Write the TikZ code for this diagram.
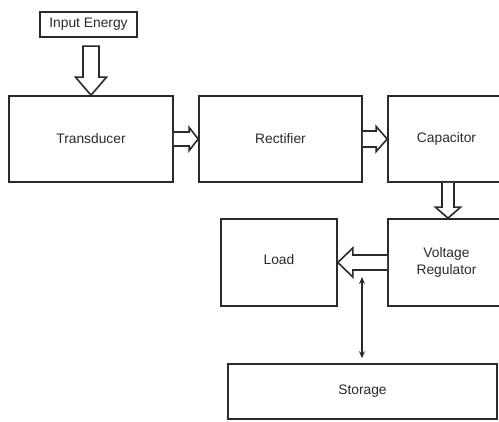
\documentclass[tikz,border=0pt]{standalone}
\usepackage{fontspec}
\setmainfont{Liberation Sans}
\usetikzlibrary{calc,arrows.meta}
\definecolor{ink}{HTML}{2A2A2A}
\begin{document}
\begin{tikzpicture}[x=1pt,y=-1pt,
  blk/.style={draw=ink,line width=1.6pt,text=ink,inner sep=0pt,font=\fontsize{13.8}{17}\selectfont,align=center},
  hollow/.style={draw=ink,line width=1.6pt,fill=white,line join=miter},
  dbl/.style={draw=ink,line width=1.3pt,{Stealth[length=7pt,width=6pt]}-{Stealth[length=7pt,width=6pt]}}]
\useasboundingbox (0,0) rectangle (499,422);
\clip (0,0) rectangle (499,422);
\node[blk,minimum width=97pt,minimum height=25pt] (inp) at (88.5,24.5) {Input Energy};
\node[blk,minimum width=164pt,minimum height=86pt] (trans) at (91,139) {Transducer};
\node[blk,minimum width=163pt,minimum height=86pt] (rect) at (280.5,139) {Rectifier};
\node[blk,minimum width=117pt,minimum height=86pt] (cap) at (446.5,139) {Capacitor};
\node[blk,minimum width=117pt,minimum height=87pt] (vr) at (446.5,262.5) {Voltage\\Regulator};
\node[blk,minimum width=116pt,minimum height=87pt] (load) at (279,262.5) {\raisebox{6pt}{Load}};
\node[blk,minimum width=269pt,minimum height=55pt] (stor) at (362.5,391.5) {Storage};
% Input Energy -> Transducer
\coordinate (t1) at (trans.north);
\draw[hollow] ($(t1)+(-8,-49)$) -- ($(t1)+(-8,-18)$) -- ($(t1)+(-15.5,-18)$) -- (t1)
  -- ($(t1)+(15.5,-18)$) -- ($(t1)+(8,-18)$) -- ($(t1)+(8,-49)$) -- cycle;
% Transducer -> Rectifier
\draw[hollow] ($(trans.east)+(0,-7)$) -- ($(rect.west)+(-9,-7)$) -- ($(rect.west)+(-9,-11.5)$) -- (rect.west)
  -- ($(rect.west)+(-9,11.5)$) -- ($(rect.west)+(-9,7)$) -- ($(trans.east)+(0,7)$);
% Rectifier -> Capacitor
\draw[hollow] ($(rect.east)+(0,-8)$) -- ($(cap.west)+(-11,-8)$) -- ($(cap.west)+(-11,-12.5)$) -- (cap.west)
  -- ($(cap.west)+(-11,12.5)$) -- ($(cap.west)+(-11,8)$) -- ($(rect.east)+(0,8)$);
% Capacitor -> Voltage Regulator
\coordinate (c1) at ($(cap.south)+(1.5,0)$);
\coordinate (v1) at ($(vr.north)+(1.5,0)$);
\draw[hollow] ($(c1)+(-6,0)$) -- ($(v1)+(-6,-11)$) -- ($(v1)+(-12.5,-11)$) -- (v1)
  -- ($(v1)+(12.5,-11)$) -- ($(v1)+(6,-11)$) -- ($(c1)+(6,0)$);
% Voltage Regulator -> Load
\draw[hollow] ($(vr.west)+(0,-7.5)$) -- ($(load.east)+(15,-7.5)$) -- ($(load.east)+(15,-14.5)$) -- (load.east)
  -- ($(load.east)+(15,14.5)$) -- ($(load.east)+(15,7.5)$) -- ($(vr.west)+(0,7.5)$);
% Storage <-> line
\coordinate (s1) at (362,277);
\draw[dbl] (s1) -- ($(stor.north)+(-0.5,-5)$);
\end{tikzpicture}
\end{document}
